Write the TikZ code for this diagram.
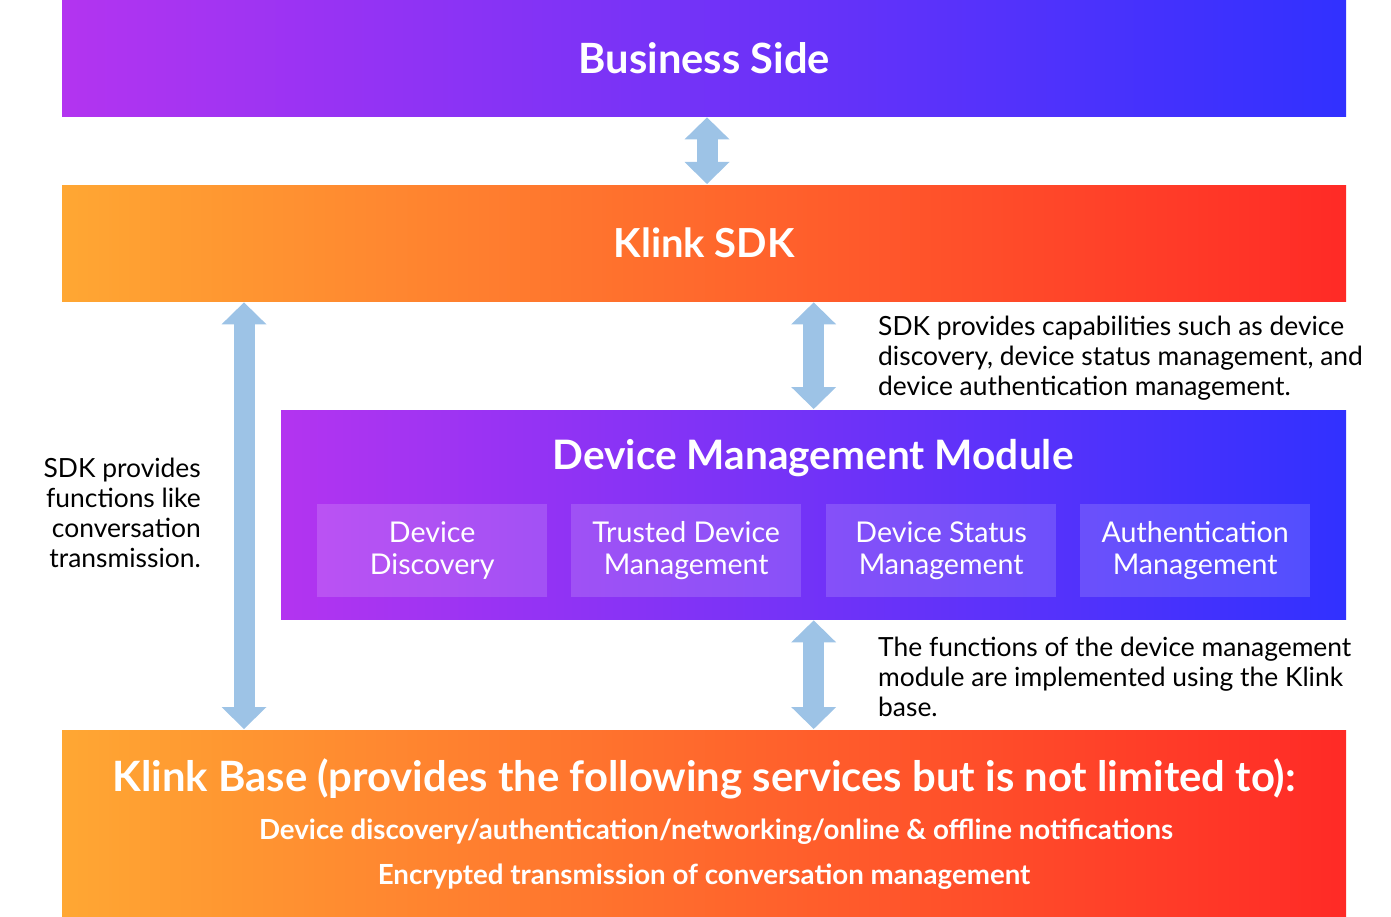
\documentclass[tikz,border=0pt]{standalone}
\usepackage{fontspec}
\setmainfont{Lato}
\usetikzlibrary{arrows.meta}
\definecolor{purpleL}{HTML}{B334F0}
\definecolor{purpleR}{HTML}{3131FF}
\definecolor{orangeL}{HTML}{FFA733}
\definecolor{orangeR}{HTML}{FF2A26}
\definecolor{arrowblue}{HTML}{9DC3E6}
\tikzset{
    purplebar/.style={left color=purpleL, right color=purpleR, draw=none,
        anchor=north west, inner sep=0pt, text=white},
    orangebar/.style={left color=orangeL, right color=orangeR, draw=none,
        anchor=north west, inner sep=0pt, text=white},
    subbox/.style={fill=white, fill opacity=.15, text opacity=1, text=white,
        anchor=north west, minimum width=230pt, minimum height=93pt,
        inner sep=0pt, align=center, font=\fontsize{28.6}{32}\selectfont},
    dblarrow/.style={draw=arrowblue, line width=21pt, shorten <=1pt, shorten >=1pt,
        {Triangle[length=22pt, width=45pt, line width=0pt]}-{Triangle[length=22pt, width=45pt, line width=0pt]}},
    note/.style={inner sep=0pt, font=\fontsize{26.4}{30}\selectfont}
}

\begin{document}
\begin{tikzpicture}[x=1pt, y=-1pt]
	\useasboundingbox (0,0) rectangle (1391,917);
	\node [purplebar, minimum width=1284pt, minimum height=116pt,
		font=\fontsize{41.7}{42}\selectfont\bfseries] (bs) at (62,0) {Business Side};
	\node [orangebar, minimum width=1284pt, minimum height=116pt,
		font=\fontsize{40}{40}\selectfont\bfseries] (sdk) at (62,185) {Klink SDK};
	\node [purplebar, minimum width=1065pt, minimum height=209pt] (dmm) at (281,410) {};
	\node [orangebar, minimum width=1284pt, minimum height=187pt] (base) at (62,730) {};
	% module title and parts
	\node [text=white, inner sep=0pt, font=\fontsize{40.6}{41}\selectfont\bfseries]
		(dmmtitle) at (813,458) {Device Management Module};
	\node [subbox] (discovery) at (317,504) {Device\\Discovery};
	\node [subbox] (trusted) at (571,504) {Trusted Device\\Management};
	\node [subbox] (status) at (826,504) {Device Status\\Management};
	\node [subbox] (auth) at (1080,504) {Authentication\\Management};
	% base texts
	\node [text=white, inner sep=0pt, font=\fontsize{41.8}{42}\selectfont\bfseries]
		(basetitle) at (704,779) {Klink Base (provides the following services but is not limited to):};
	\node [text=white, inner sep=0pt, font=\fontsize{27.7}{28}\selectfont\bfseries]
		(baseline1) at (716,832) {Device discovery/authentication/networking/online \& offline notifications};
	\node [text=white, inner sep=0pt, font=\fontsize{27.7}{28}\selectfont\bfseries]
		(baseline2) at (704,877) {Encrypted transmission of conversation management};
	% notes
	\node [note, anchor=base west, align=left] (note1) at (878,395)
		{SDK provides capabilities such as device\\discovery, device status management, and\\device authentication management.};
	\node [note, anchor=base west, align=left] (note2) at (878,716)
		{The functions of the device management\\module are implemented using the Klink\\base.};
	\node [note, anchor=base east, align=right] (note3) at (201,567)
		{SDK provides\\functions like\\conversation\\transmission.};
	% arrows
	\coordinate (topx) at (707,0);
	\coordinate (leftx) at (244,0);
	\draw [dblarrow] (topx |- bs.south) -- (topx |- sdk.north);
	\draw [dblarrow] (leftx |- sdk.south) -- (leftx |- base.north);
	\draw [dblarrow] (dmm.north |- sdk.south) -- (dmm.north);
	\draw [dblarrow] (dmm.south) -- (dmm.south |- base.north);
\end{tikzpicture}
\end{document}
